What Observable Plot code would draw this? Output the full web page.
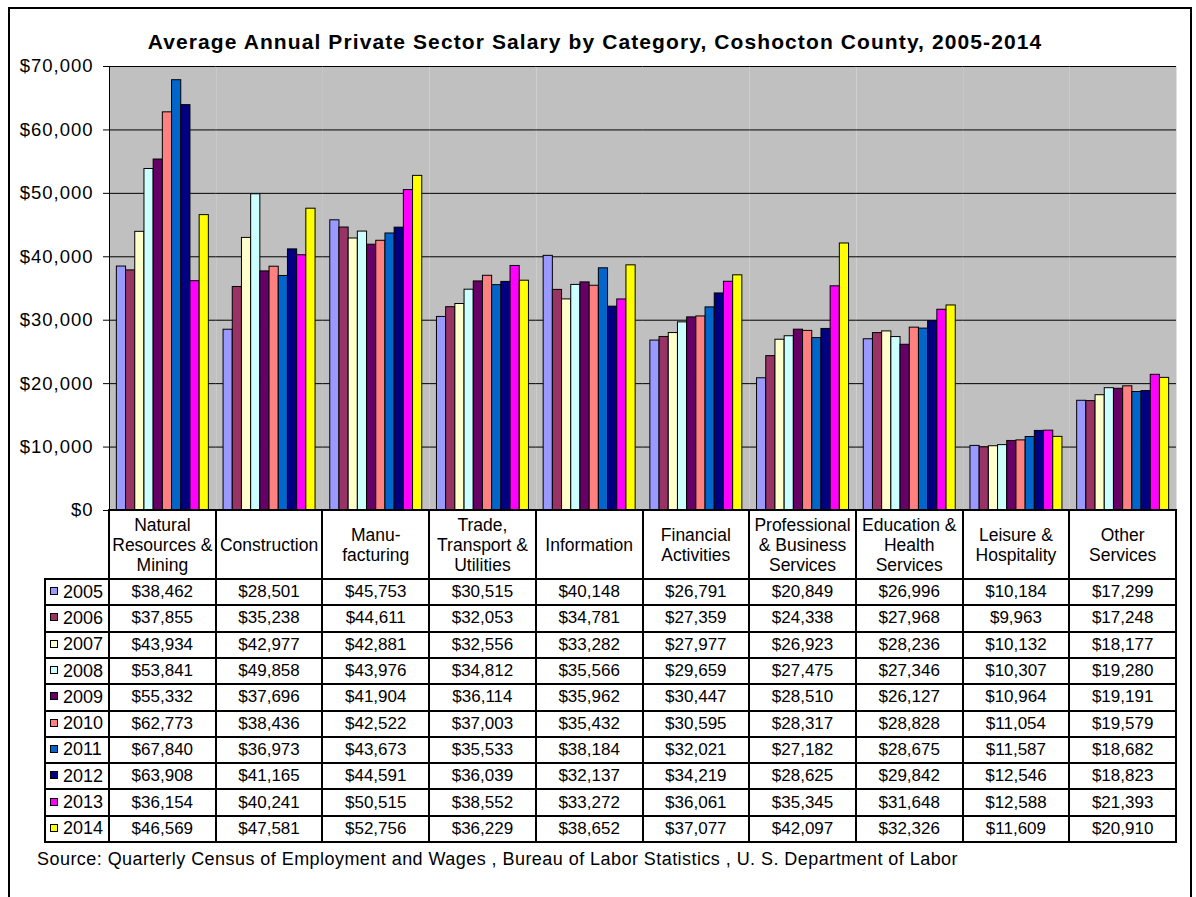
<!DOCTYPE html>
<html>
<head>
<meta charset="utf-8">
<script src="https://cdn.jsdelivr.net/npm/d3@7"></script>
<script src="https://cdn.jsdelivr.net/npm/@observablehq/plot@0.6"></script>
<style>
  html, body { margin:0; padding:0; background:#fff; }
  body { width:1196px; height:897px; position:relative; overflow:hidden; font-family:"Liberation Sans", Arial, sans-serif; color:#000; }
  #frame { position:absolute; left:8px; top:7px; width:1180px; height:960px; border:2px solid #000; }
  #title { position:absolute; left:0; width:1190px; top:30px; text-align:center; font-weight:bold; font-size:21px; letter-spacing:1.1px; white-space:nowrap; }
  #chart { position:absolute; left:0; top:0; }
  #chart svg g[aria-label="y-axis tick label"] text { letter-spacing:1px; }
  #tbl { position:absolute; left:0; top:0; }
  .cell { position:absolute; display:flex; align-items:center; justify-content:center; text-align:center; white-space:nowrap; }
  .head { font-size:17.5px; line-height:20px; }
  .val { font-size:17px; }
  .yr { font-size:18px; justify-content:flex-start; }
  .hl, .vl { position:absolute; background:#000; }
  .sw { display:inline-block; box-sizing:border-box; width:8px; height:8px; border:1px solid #000; margin-left:5px; margin-right:5px; position:relative; top:-1px; }
  #source { position:absolute; left:37px; top:849px; font-size:18px; letter-spacing:0.45px; white-space:nowrap; }
</style>
</head>
<body>
<div id="frame"></div>
<div id="title">Average Annual Private Sector Salary by Category, Coshocton County, 2005-2014</div>
<div id="chart"></div>
<div id="tbl"></div>
<div id="source">Source: Quarterly Census of Employment and Wages , Bureau of Labor Statistics , U. S. Department of Labor</div>
<script>
const categories = ["Natural Resources & Mining", "Construction", "Manufacturing", "Trade, Transport & Utilities", "Information", "Financial Activities", "Professional & Business Services", "Education & Health Services", "Leisure & Hospitality", "Other Services"];
const categoryLines = [["Natural","Resources &","Mining"], ["Construction"], ["Manu-","facturing"], ["Trade,","Transport &","Utilities"], ["Information"], ["Financial","Activities"], ["Professional","& Business","Services"], ["Education &","Health","Services"], ["Leisure &","Hospitality"], ["Other","Services"]];
const years = ["2005","2006","2007","2008","2009","2010","2011","2012","2013","2014"];
const yearColors = ["#9999FF","#993366","#FFFFCC","#CCFFFF","#660066","#FF8080","#0066CC","#000080","#FF00FF","#FFFF00"];
const yTicks = [0, 10000, 20000, 30000, 40000, 50000, 60000, 70000];

const s2005 = [38462, 28501, 45753, 30515, 40148, 26791, 20849, 26996, 10184, 17299];
const s2006 = [37855, 35238, 44611, 32053, 34781, 27359, 24338, 27968, 9963, 17248];
const s2007 = [43934, 42977, 42881, 32556, 33282, 27977, 26923, 28236, 10132, 18177];
const s2008 = [53841, 49858, 43976, 34812, 35566, 29659, 27475, 27346, 10307, 19280];
const s2009 = [55332, 37696, 41904, 36114, 35962, 30447, 28510, 26127, 10964, 19191];
const s2010 = [62773, 38436, 42522, 37003, 35432, 30595, 28317, 28828, 11054, 19579];
const s2011 = [67840, 36973, 43673, 35533, 38184, 32021, 27182, 28675, 11587, 18682];
const s2012 = [63908, 41165, 44591, 36039, 32137, 34219, 28625, 29842, 12546, 18823];
const s2013 = [36154, 40241, 50515, 38552, 33272, 36061, 35345, 31648, 12588, 21393];
const s2014 = [46569, 47581, 52756, 36229, 38652, 37077, 42097, 32326, 11609, 20910];
const series = [s2005, s2006, s2007, s2008, s2009, s2010, s2011, s2012, s2013, s2014];

const data = years.flatMap((yr, i) => series[i].map((v, j) => ({category: categories[j], year: yr, value: v})));
const fmt = v => "$" + d3.format(",")(v);

const chart = Plot.plot({
  width: 1196,
  height: 524,
  marginLeft: 109,
  marginRight: 20,
  marginTop: 66,
  marginBottom: 14,
  style: {background: "transparent", fontFamily: "'Liberation Sans', Arial, sans-serif", fontSize: "18px", color: "#000"},
  fx: {domain: categories, padding: 0, round: false, axis: null},
  x: {domain: years, paddingInner: 0, paddingOuter: 0.8, round: false, axis: null},
  y: {domain: [0, 70000], axis: null},
  color: {type: "ordinal", domain: years, range: yearColors},
  marks: [
    Plot.frame({fill: "#C0C0C0", stroke: null}),
    Plot.gridY(yTicks, {stroke: "#000", strokeOpacity: 1, strokeWidth: 1}),
    Plot.barY(data, {fx: "category", x: "year", y: "value", fill: "year", stroke: "#000", strokeWidth: 1}),
    Plot.axisY(yTicks, {tickSize: 6, tickPadding: 10, tickFormat: fmt, label: null, fontSize: 18.5, stroke: "#000"}),
    Plot.frame({anchor: "left", facetAnchor: "left", stroke: "#000", strokeWidth: 1})
  ]
});
document.getElementById("chart").appendChild(chart);

// Data table aligned to the chart's fx scale and y scale
const fx = chart.scale("fx");
const ys = chart.scale("y");
const bw = fx.bandwidth;
const colX = categories.map(c => fx.apply(c));
const xRight = colX[colX.length - 1] + bw;
const xLegend = 45;
const yTop = ys.apply(0);
const headH = 69;
const rowH = 26.3;
const tbl = document.getElementById("tbl");
const lw = 2;
function add(cls, l, t, w, h, inner) {
  const d = document.createElement("div");
  d.className = cls;
  d.style.left = l + "px"; d.style.top = t + "px"; d.style.width = w + "px"; d.style.height = h + "px";
  if (inner != null) d.innerHTML = inner;
  tbl.appendChild(d);
}
// header cells
categories.forEach((c, j) => add("cell head", colX[j], yTop, bw, headH, categoryLines[j].join("<br>")));
// data rows
years.forEach((yr, i) => {
  const top = yTop + headH + i * rowH;
  add("cell yr", xLegend, top, colX[0] - xLegend, rowH, "<span class='sw' style='background:" + yearColors[i] + "'></span>" + yr);
  series[i].forEach((v, j) => add("cell val", colX[j], top, bw, rowH, fmt(v)));
});
// horizontal lines
add("hl", colX[0] - lw / 2, yTop - lw / 2, xRight - colX[0] + lw, lw);
for (let i = 0; i <= years.length; i++) {
  const y = yTop + headH + i * rowH;
  add("hl", xLegend - lw / 2, y - lw / 2, xRight - xLegend + lw, lw);
}
// vertical lines
const yBottom = yTop + headH + years.length * rowH;
add("vl", xLegend - lw / 2, yTop + headH - lw / 2, lw, yBottom - yTop - headH + lw);
[...colX, xRight].forEach(x => add("vl", x - lw / 2, yTop - lw / 2, lw, yBottom - yTop + lw));
</script>
</body>
</html>
